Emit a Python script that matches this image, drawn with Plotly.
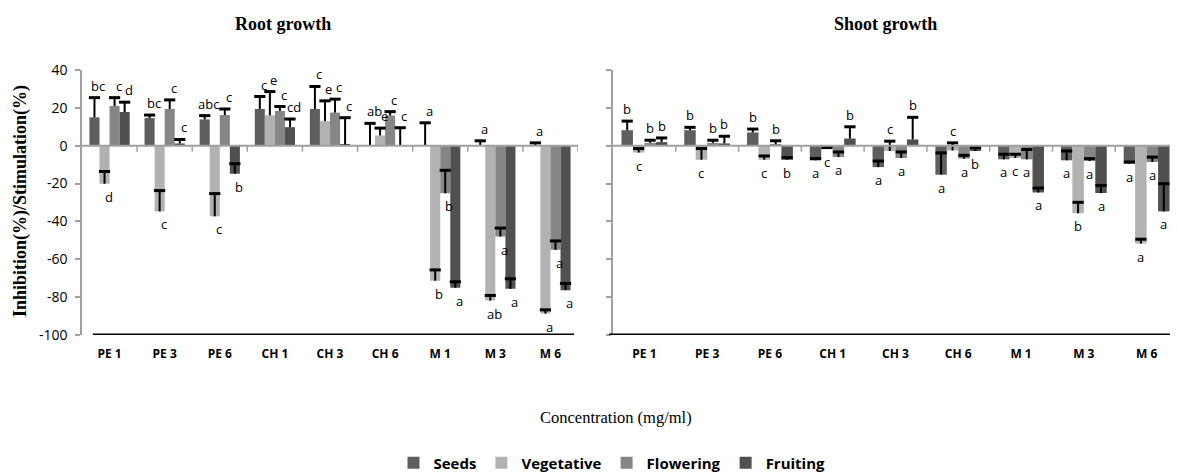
import plotly.graph_objects as go

categories = ["PE 1", "PE 3", "PE 6", "CH 1", "CH 3", "CH 6", "M 1", "M 3", "M 6"]
series_names = ["Seeds", "Vegetative", "Flowering", "Fruiting"]
colors = ["#5e5e5e", "#b2b2b2", "#868686", "#505050"]
y_ticks = [40, 20, 0, -20, -40, -60, -80, -100]
y_ticklabels = ["40", "20", "0", "-20", "-40", "-60", "-80", "-100"]

# Root growth
root_seeds = [15.0, 14.6, 13.9, 19.4, 19.4, 0.0, 0.0, 0.0, 0.0]
root_seeds_err = [10.4, 1.6, 2.0, 6.6, 11.9, 11.8, 12.1, 2.6, 1.5]
root_veg = [-20.1, -34.7, -37.3, 16.0, 13.0, 5.4, -71.3, -81.8, -88.7]
root_veg_err = [6.5, 11.0, 12.0, 12.6, 10.7, 3.9, 5.7, 2.7, 2.0]
root_flow = [21.0, 19.4, 16.2, 18.4, 17.5, 15.9, -25.1, -48.0, -55.0]
root_flow_err = [4.4, 4.8, 3.2, 2.3, 7.1, 2.1, 12.1, 4.5, 4.7]
root_fruit = [17.8, 1.2, -14.8, 9.8, 0.5, 0.0, -75.0, -75.6, -76.3]
root_fruit_err = [5.2, 2.1, 5.3, 4.3, 14.3, 9.5, 3.1, 5.3, 3.5]

root_seeds_lab = ["bc", "bc", "abc", "c", "c", "ab", "a", "a", "a"]
root_veg_lab = ["d", "c", "c", "e", "e", "e", "b", "ab", "a"]
root_flow_lab = ["c", "c", "c", "c", "c", "c", "b", "a", "a"]
root_fruit_lab = ["d", "c", "b", "cd", "c", "c", "a", "a", "a"]
root_seeds_pos = ["u", "u", "u", "u", "u", "u", "u", "u", "u"]
root_veg_pos = ["d", "d", "d", "u", "u", "u", "d", "d", "d"]
root_flow_pos = ["u", "u", "u", "u", "u", "u", "d", "d", "d"]
root_fruit_pos = ["u", "u", "d", "u", "u", "u", "d", "d", "d"]

# Shoot growth
shoot_seeds = [8.2, 8.2, 7.0, -7.7, -11.3, -15.3, -7.2, -7.7, -9.5]
shoot_seeds_err = [4.8, 1.5, 1.8, 0.9, 3.2, 11.5, 2.7, 4.9, 0.9]
shoot_veg = [-3.6, -7.4, -7.4, -1.5, -2.8, -2.5, -6.5, -35.7, -51.7]
shoot_veg_err = [2.1, 5.9, 2.0, 0.5, 5.2, 4.0, 2.0, 5.8, 2.3]
shoot_flow = [1.5, 1.5, 0.8, -6.0, -6.5, -6.8, -7.2, -8.1, -8.6]
shoot_flow_err = [1.4, 1.4, 1.8, 2.7, 3.2, 1.7, 5.2, 1.3, 2.6]
shoot_fruit = [1.9, 1.2, -7.4, 3.8, 3.3, -2.8, -24.7, -25.0, -34.7]
shoot_fruit_err = [2.2, 3.8, 1.1, 6.2, 11.7, 1.8, 2.3, 4.0, 14.6]

shoot_seeds_lab = ["b", "b", "b", "a", "a", "a", "a", "a", "a"]
shoot_veg_lab = ["c", "c", "c", "c", "c", "c", "c", "b", "a"]
shoot_flow_lab = ["b", "b", "b", "a", "a", "a", "a", "a", "a"]
shoot_fruit_lab = ["b", "b", "b", "b", "b", "b", "a", "a", "a"]
shoot_seeds_pos = ["u", "u", "u", "d", "d", "d", "d", "d", "d"]
shoot_veg_pos = ["d", "d", "d", "d", "u", "u", "d", "d", "d"]
shoot_flow_pos = ["u", "u", "u", "d", "d", "d", "d", "d", "d"]
shoot_fruit_pos = ["u", "u", "d", "u", "u", "d", "d", "d", "d"]

W, H = 1178, 472
OFF = 8  # default page body margin of the written html
TOP, BOT = 70, 335  # page pixel rows of y=40 and y=-100
M_T = TOP - OFF
M_B = H - (BOT - OFF)
PH = H - M_T - M_B
BARGAP = 0.27
BW = (1 - BARGAP) / 4
idx = list(range(len(categories)))


def px_x(p):
    return (p - OFF) / W


def px_y(p):
    return (BOT - p) / PH


panels = [
    dict(xa="x", ya="y", title="Root growth", tx=283, xshift=4,
         vals=[root_seeds, root_veg, root_flow, root_fruit],
         errs=[root_seeds_err, root_veg_err, root_flow_err, root_fruit_err],
         labs=[root_seeds_lab, root_veg_lab, root_flow_lab, root_fruit_lab],
         poss=[root_seeds_pos, root_veg_pos, root_flow_pos, root_fruit_pos],
         legend=True, base=(0.022, 0.992)),
    dict(xa="x2", ya="y2", title="Shoot growth", tx=885, xshift=0,
         vals=[shoot_seeds, shoot_veg, shoot_flow, shoot_fruit],
         errs=[shoot_seeds_err, shoot_veg_err, shoot_flow_err, shoot_fruit_err],
         labs=[shoot_seeds_lab, shoot_veg_lab, shoot_flow_lab, shoot_fruit_lab],
         poss=[shoot_seeds_pos, shoot_veg_pos, shoot_flow_pos, shoot_fruit_pos],
         legend=False, base=(-0.007, 1.0)),
]

fig = go.Figure()
annotations = []
shapes = []
lab_font = dict(family="Open Sans", size=13, color="black")

for p in panels:
    ex, ey, cx, cy = [], [], [], []
    for k, name in enumerate(series_names):
        fig.add_trace(go.Bar(
            x=idx, y=p["vals"][k], name=name,
            marker=dict(color=colors[k], line=dict(width=0)),
            xaxis=p["xa"], yaxis=p["ya"], showlegend=p["legend"],
            legendgroup=name, hoverinfo="skip",
        ))
        for i in idx:
            v = p["vals"][k][i]
            e = p["errs"][k][i]
            xc = i + (k - 1.5) * BW
            ex += [xc, xc, None]
            ey += [v, v + e, None]
            cx.append(xc)
            cy.append(v + e)
            if p["poss"][k][i] == "u":
                yv, ya_, ys = v + e, "bottom", 1
            else:
                yv, ya_, ys = v, "top", -2
            annotations.append(dict(
                x=xc, y=yv, xref=p["xa"], yref=p["ya"],
                text=p["labs"][k][i], showarrow=False, yanchor=ya_,
                xanchor="center", xshift=p["xshift"], yshift=ys, font=lab_font))
    dom = "x domain" if p["xa"] == "x" else "x2 domain"
    shapes.append(dict(type="line", xref=dom, yref=p["ya"], x0=0, x1=1, y0=0, y1=0,
                       line=dict(color="#a0a0a0", width=2), layer="above"))
    # error bars (plus direction only, single cap)
    fig.add_trace(go.Scatter(x=ex, y=ey, mode="lines", line=dict(color="black", width=2),
                             xaxis=p["xa"], yaxis=p["ya"], showlegend=False, hoverinfo="skip",
                             connectgaps=False, cliponaxis=False))
    fig.add_trace(go.Scatter(x=cx, y=cy, mode="markers",
                             marker=dict(symbol="line-ew", size=8, color="black",
                                         line=dict(color="black", width=3)),
                             xaxis=p["xa"], yaxis=p["ya"], showlegend=False, hoverinfo="skip",
                             cliponaxis=False))
    for b in range(1, len(categories) + 1):
        shapes.append(dict(type="line", xref=p["xa"], yref=p["ya"], x0=b - 0.5, x1=b - 0.5,
                           ysizemode="pixel", yanchor=0, y0=0, y1=-6,
                           line=dict(color="#a0a0a0", width=1.5), layer="above"))
    shapes.append(dict(type="line", xref=dom, yref=p["ya"], x0=p["base"][0], x1=p["base"][1],
                       y0=-100, y1=-100, line=dict(color="black", width=3), layer="above"))
    annotations.append(dict(x=px_x(p["tx"]), y=px_y(24), xref="paper", yref="paper",
                            xanchor="center", yanchor="middle",
                            text="<b>" + p["title"] + "</b>", showarrow=False,
                            font=dict(family="Liberation Serif", size=18, color="black")))

annotations.append(dict(x=px_x(20), y=px_y(201), xref="paper", yref="paper",
                        xanchor="center", yanchor="middle",
                        text="<b>Inhibition(%)/Stimulation(%)</b>", textangle=-90, showarrow=False,
                        font=dict(family="Liberation Serif", size=18, color="black")))
annotations.append(dict(x=px_x(616), y=px_y(417), xref="paper", yref="paper",
                        xanchor="center", yanchor="middle",
                        text="Concentration (mg/ml)", showarrow=False,
                        font=dict(family="Liberation Serif", size=16.5, color="black")))

yaxis_common = dict(range=[-100, 40], tickvals=y_ticks, ticktext=y_ticklabels,
                    showgrid=False, zeroline=False, automargin=False,
                    showline=True, linecolor="#a0a0a0", linewidth=1.5,
                    ticks="outside", ticklen=5, tickcolor="#a0a0a0", tickwidth=1.5)
xaxis_common = dict(range=[-0.5, 8.5], tickvals=idx, ticktext=categories,
                    showgrid=False, zeroline=False, automargin=False,
                    showline=False, ticks="outside", ticklen=8, tickcolor="rgba(0,0,0,0)",
                    tickfont=dict(family="Open Sans", size=12, color="black", weight="bold"))

fig.update_layout(
    width=W, height=H,
    margin=dict(l=0, r=0, t=M_T, b=M_B),
    paper_bgcolor="white", plot_bgcolor="white",
    barmode="group", bargap=BARGAP, bargroupgap=0,
    xaxis=dict(domain=[px_x(82), px_x(578)], anchor="y", **xaxis_common),
    xaxis2=dict(domain=[px_x(613), px_x(1178)], anchor="y2", **xaxis_common),
    yaxis=dict(domain=[0, 1], anchor="x", ticklabelstandoff=5,
               tickfont=dict(family="Open Sans", size=14, color="black"), **yaxis_common),
    yaxis2=dict(domain=[0, 1], anchor="x2", showticklabels=False, **yaxis_common),
    legend=dict(orientation="h", x=px_x(612), xanchor="center", y=px_y(463), yanchor="middle",
                font=dict(family="Open Sans", size=15, color="black", weight="bold"),
                itemwidth=30, bgcolor="rgba(0,0,0,0)"),
    annotations=annotations, shapes=shapes,
    showlegend=True,
)

fig.write_html("out.html")
